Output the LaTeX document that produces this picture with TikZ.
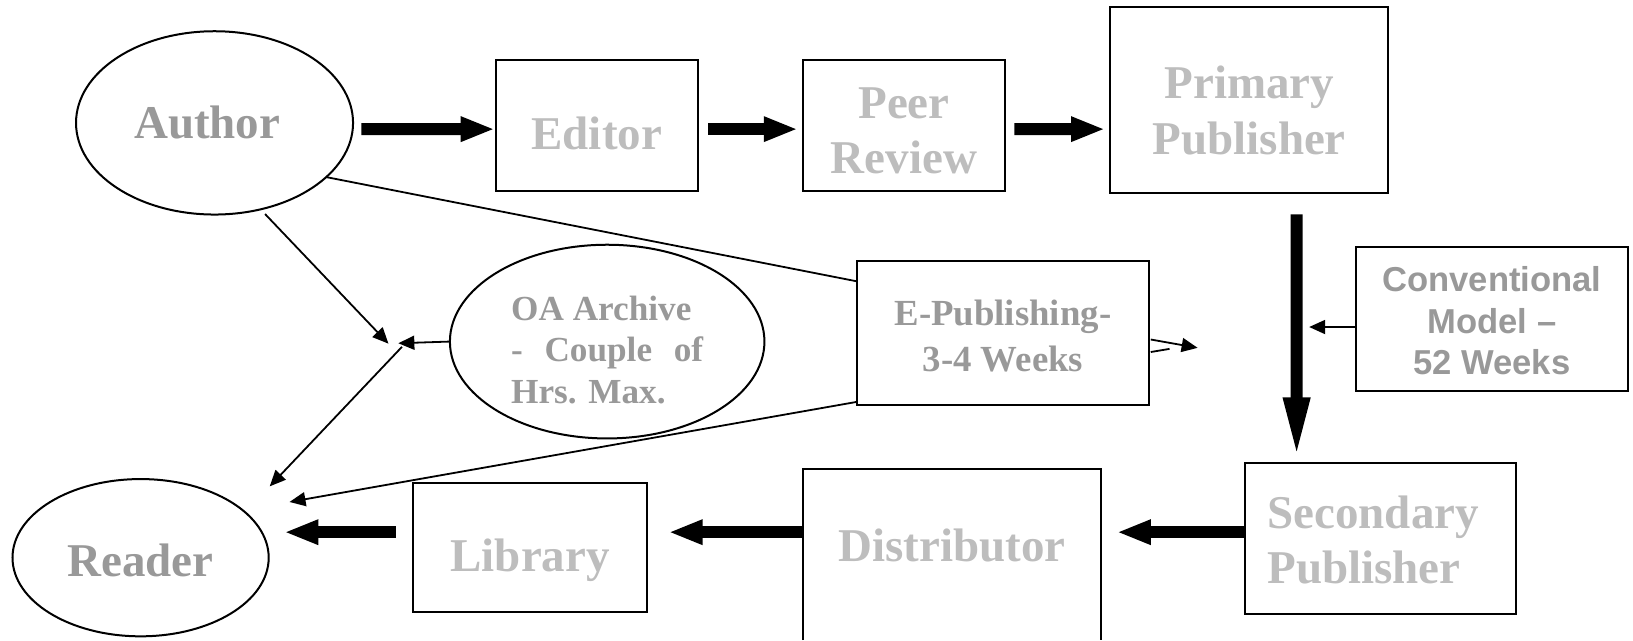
\documentclass[tikz,border=0pt]{standalone}
\usepackage{fontspec}
\setmainfont{Liberation Serif}
\newfontfamily\arialfam{Liberation Sans}
\usetikzlibrary{arrows.meta,shapes.geometric,calc}
\definecolor{txtdark}{gray}{0.6}
\definecolor{txtlight}{gray}{0.74}
\def\uu{0.5208pt}
\newcommand\bigtxt{\fontsize{23.5}{27.6}\selectfont\bfseries}
\newcommand\oatxt{\fontsize{17.6}{20.6}\selectfont\bfseries}
\newcommand\eptxt{\fontsize{18.4}{23}\selectfont\bfseries}
\newcommand\convtxt{\arialfam\fontsize{17.3}{20.6}\selectfont\bfseries}
\begin{document}
\begin{tikzpicture}[x=0.5208pt,y=-0.5208pt,
  box/.style={draw, line width=1pt, rectangle, inner sep=0pt},
  oval/.style={draw, ellipse, line width=1pt, inner sep=0pt},
  lbl/.style={inner sep=0pt, align=center, font=\bigtxt, text=txtlight},
  dlbl/.style={lbl, text=txtdark},
  bigarrow/.style={line width=6pt, -{Triangle[length=17pt,width=11.5pt]}},
  bigarrowv/.style={line width=6pt, -{Triangle[length=31pt,width=12pt]}},
  thinarrow/.style={line width=0.9pt, -{Triangle[length=8pt,width=7pt]}},
  thinline/.style={line width=0.9pt}]
\useasboundingbox (0,0) rectangle (1568,615);

% ellipses
\node[oval, minimum width=266*\uu, minimum height=176*\uu] (author) at (206,118) {};
\node[dlbl] (author-t) at ($(author.center)+(-7,0)$) {Author};
\node[oval, minimum width=302*\uu, minimum height=186*\uu] (oa) at (583,328) {};
\node[dlbl, font=\oatxt, align=left] (oa-t) at ($(oa.center)+(0,8)$)
  {OA Archive\\\makebox[96pt][s]{- \ Couple \ of}\\Hrs. Max.};
\node[oval, minimum width=246*\uu, minimum height=151*\uu] (reader) at (135,535.5) {};
\node[dlbl] (reader-t) at ($(reader.center)+(0,3)$) {Reader};

% boxes
\node[box, minimum width=194*\uu, minimum height=125*\uu] (editor) at (573,120.5) {};
\node[lbl] (editor-t) at ($(editor.center)+(0,8)$) {Editor};
\node[box, minimum width=194*\uu, minimum height=125*\uu] (peer) at (868,120.5) {};
\node[lbl] (peer-t) at ($(peer.center)+(0,5)$) {Peer\\Review};
\node[box, minimum width=267*\uu, minimum height=178*\uu] (primary) at (1199.5,96) {};
\node[lbl] (primary-t) at ($(primary.center)+(0,10)$) {Primary\\Publisher};
\node[box, minimum width=261*\uu, minimum height=145*\uu] (secondary) at (1325.5,517.5) {};
\node[lbl, align=left] (secondary-t) at ($(secondary.center)+(-7,1)$) {Secondary\\Publisher};
\node[box, minimum width=224*\uu, minimum height=124*\uu] (library) at (509,526) {};
\node[lbl] (library-t) at ($(library.center)+(0,12)$) {Library};
\node[inner sep=0pt, minimum width=286*\uu, minimum height=144*\uu] (dist) at (914,523) {};
\node[lbl] (dist-t) at ($(dist.center)+(0,1)$) {Distributor};
\draw[line width=1pt] ($(dist.north west)+(0,164)$) -- (dist.north west) -- (dist.north east) -- ++(0,164);
\node[box, minimum width=280*\uu, minimum height=138*\uu] (epub) at (963,320) {};
\node[dlbl, font=\eptxt] (epub-t) at ($(epub.center)+(0,3)$) {E-Publishing-\\3-4 Weeks};
\node[box, minimum width=261*\uu, minimum height=138*\uu] (conv) at (1432.5,306) {};
\node[dlbl, font=\convtxt] (conv-t) at ($(conv.center)+(0,2)$) {Conventional\\Model \textendash\\52 Weeks};

% thick arrows
\draw[bigarrow] ($(author.east)+(7,6)$) -- ($(editor.west)+(0,3.5)$);
\draw[bigarrow] ($(editor.east)+(9,3.5)$) -- ($(peer.west)+(-4,3.5)$);
\draw[bigarrow] ($(peer.east)+(8,3.5)$) -- ($(primary.west)+(-4,28)$);
\draw[bigarrowv] ($(primary.south)+(45.5,20)$) -- ($(secondary.north)+(-80.5,-3)$);
\draw[bigarrow] ($(secondary.west)+(0,-6.5)$) -- ($(dist.east)+(15,-12)$);
\draw[bigarrow] ($(dist.west)+(0,-12)$) -- ($(library.east)+(20,-15)$);
\draw[bigarrow] ($(library.west)+(-16,-15)$) -- ($(reader.east)+(14,-24.5)$);

% thin connectors
\coordinate (ja) at (373,330);
\coordinate (jo) at (382.5,329.6);
\coordinate (jr) at (386,333);
\draw[thinarrow] ($(author.center)+(48.5,87.5)$) -- (ja);
\draw[thinarrow] (oa.west) -- (jo);
\draw[thinarrow] (jr) -- ($(reader.center)+(124,-68.5)$);
\draw[thinline] ($(author.center)+(107,52)$) -- ($(epub.west)+(0,-50)$);
\draw[thinarrow] ($(epub.west)+(0,66)$) -- ($(reader.center)+(143,-53.5)$);
\draw[thinarrow] ($(epub.east)+(1,6)$) -- ($(epub.east)+(46,14)$);
\draw[thinline] ($(epub.east)+(1,18)$) -- ($(epub.east)+(19,15)$);
\draw[thinarrow] ($(conv.west)+(0,8)$) -- ($(conv.west)+(-44,8)$);
\end{tikzpicture}
\end{document}
